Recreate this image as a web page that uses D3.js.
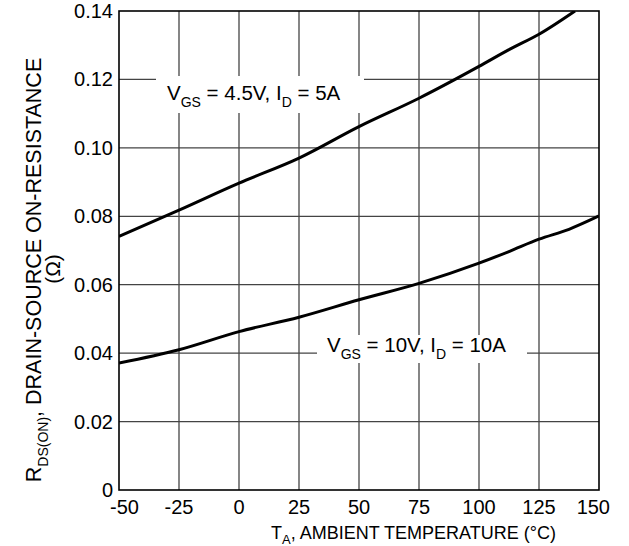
<!DOCTYPE html>
<html>
<head>
<meta charset="utf-8">
<script src="https://cdn.jsdelivr.net/npm/d3@7"></script>
<style>
  body { margin: 0; background: #fff; }
  svg { display: block; font-family: "Liberation Sans", Arial, sans-serif; }
</style>
</head>
<body>
<svg width="629" height="546"></svg>
<script>
// data
const temps45 = [-50, -25, 0, 25, 50, 75, 100, 112.5, 125, 140];
const rds45   = [0.0741, 0.0818, 0.0897, 0.0970, 0.1062, 0.1145, 0.1238, 0.1287, 0.1332, 0.1400];
const temps10 = [-50, -25, 0, 25, 50, 75, 100, 112.5, 125, 137.5, 150];
const rds10   = [0.0371, 0.0410, 0.0463, 0.0505, 0.0556, 0.0604, 0.0663, 0.0697, 0.0733, 0.0762, 0.0801];
const xTicks = [-50, -25, 0, 25, 50, 75, 100, 125, 150];
const yTicks = [0, 0.02, 0.04, 0.06, 0.08, 0.10, 0.12, 0.14];
const yTickLabels = ["0", "0.02", "0.04", "0.06", "0.08", "0.10", "0.12", "0.14"];

const svg = d3.select("svg");
const pL = 119, pR = 599, pT = 11, pB = 490;

const x = d3.scaleLinear().domain([-50, 150]).range([pL, pR]);
const y = d3.scaleLinear().domain([0, 0.14]).range([pB, pT]);

// grid
const grid = svg.append("g").attr("stroke", "#444").attr("stroke-width", 1.3);
grid.selectAll(".vx").data(xTicks.slice(1, -1)).enter().append("line")
    .attr("x1", d => x(d)).attr("x2", d => x(d))
    .attr("y1", pT).attr("y2", pB);
grid.selectAll(".hy").data(yTicks.slice(1, -1)).enter().append("line")
    .attr("x1", pL).attr("x2", pR)
    .attr("y1", d => y(d)).attr("y2", d => y(d));

// white boxes behind the labels
svg.append("rect").attr("x", 156).attr("y", 76).attr("width", 208).attr("height", 37).attr("fill", "#fff");
svg.append("rect").attr("x", 317).attr("y", 335).attr("width", 210).attr("height", 28).attr("fill", "#fff");

// frame
svg.append("rect")
    .attr("x", pL).attr("y", pT)
    .attr("width", pR - pL).attr("height", pB - pT)
    .attr("fill", "none").attr("stroke", "#000").attr("stroke-width", 1.6);

// curves
svg.append("clipPath").attr("id", "clip").append("rect")
    .attr("x", pL).attr("y", pT).attr("width", pR - pL).attr("height", pB - pT);

const line = d3.line().x(d => x(d[0])).y(d => y(d[1])).curve(d3.curveMonotoneX);
[[temps45, rds45], [temps10, rds10]].forEach(([t, r]) => {
    svg.append("path")
        .attr("d", line(t.map((d, i) => [d, r[i]])))
        .attr("clip-path", "url(#clip)")
        .attr("fill", "none").attr("stroke", "#000").attr("stroke-width", 3);
});

// tick labels (end labels pulled inward like the original)
const last = xTicks.length - 1;
svg.append("g").selectAll("text").data(xTicks).enter().append("text")
    .attr("x", (d, i) => x(d) + (i === 0 ? -9 : i === last ? 11 : 0))
    .attr("y", 514)
    .attr("text-anchor", (d, i) => i === 0 ? "start" : i === last ? "end" : "middle")
    .attr("font-size", 20)
    .text(d => d);
svg.append("g").selectAll("text").data(yTicks).enter().append("text")
    .attr("x", 113).attr("y", d => y(d)).attr("dy", "0.35em")
    .attr("text-anchor", "end").attr("font-size", 20)
    .text((d, i) => yTickLabels[i]);

// curve labels
function label(xp, yp, v, i) {
    const t = svg.append("text").attr("x", xp).attr("y", yp).attr("font-size", 20.5);
    t.append("tspan").text("V");
    t.append("tspan").attr("font-size", 14).attr("dy", 7).text("GS");
    t.append("tspan").attr("dy", -7).text(" = " + v + ", I");
    t.append("tspan").attr("font-size", 14).attr("dy", 7).text("D");
    t.append("tspan").attr("dy", -7).text(" = " + i);
}
label(167, 100, "4.5V", "5A");
label(327, 352, "10V", "10A");

// axis titles
const xt = svg.append("text").attr("x", 271).attr("y", 539).attr("font-size", 18);
xt.append("tspan").text("T");
xt.append("tspan").attr("font-size", 13).attr("dy", 5).text("A");
xt.append("tspan").attr("dy", -5).text(", AMBIENT TEMPERATURE (°C)");

const yt = svg.append("text")
    .attr("transform", "translate(41,270) rotate(-90)")
    .attr("text-anchor", "middle").attr("font-size", 21.5);
yt.append("tspan").text("R");
yt.append("tspan").attr("font-size", 14).attr("dy", 7).text("DS(ON)");
yt.append("tspan").attr("dy", -7).text(", DRAIN-SOURCE ON-RESISTANCE");

svg.append("text")
    .attr("transform", "translate(60,269) rotate(-90)")
    .attr("text-anchor", "middle").attr("font-size", 21)
    .text("(Ω)");
</script>
</body>
</html>
